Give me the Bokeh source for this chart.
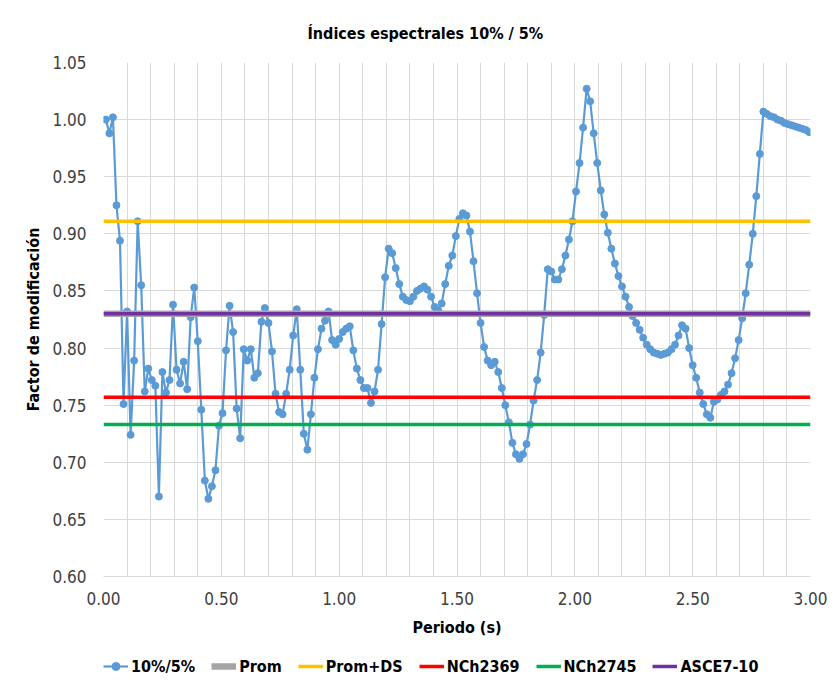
from bokeh.plotting import figure
from bokeh.layouts import column
from bokeh.models import (Range1d, FixedTicker, NumeralTickFormatter, Legend, LegendItem,
                          SingleIntervalTicker)
from bokeh.embed import file_html
from bokeh.resources import INLINE

FONT = "Liberation Sans Narrow, DejaVu Sans Condensed, sans-serif"

periodo = [
    0.010, 0.025, 0.040, 0.055, 0.070, 0.085, 0.100, 0.115, 0.130, 0.145,
    0.160, 0.175, 0.190, 0.205, 0.220, 0.235, 0.250, 0.265, 0.280, 0.295,
    0.310, 0.325, 0.340, 0.355, 0.370, 0.385, 0.400, 0.415, 0.430, 0.445,
    0.460, 0.475, 0.490, 0.505, 0.520, 0.535, 0.550, 0.565, 0.580, 0.595,
    0.610, 0.625, 0.640, 0.655, 0.670, 0.685, 0.700, 0.715, 0.730, 0.745,
    0.760, 0.775, 0.790, 0.805, 0.820, 0.835, 0.850, 0.865, 0.880, 0.895,
    0.910, 0.925, 0.940, 0.955, 0.970, 0.985, 1.000, 1.015, 1.030, 1.045,
    1.060, 1.075, 1.090, 1.105, 1.120, 1.135, 1.150, 1.165, 1.180, 1.195,
    1.210, 1.225, 1.240, 1.255, 1.270, 1.285, 1.300, 1.315, 1.330, 1.345,
    1.360, 1.375, 1.390, 1.405, 1.420, 1.435, 1.450, 1.465, 1.480, 1.495,
    1.510, 1.525, 1.540, 1.555, 1.570, 1.585, 1.600, 1.615, 1.630, 1.645,
    1.660, 1.675, 1.690, 1.705, 1.720, 1.735, 1.750, 1.765, 1.780, 1.795,
    1.810, 1.825, 1.840, 1.855, 1.870, 1.885, 1.900, 1.915, 1.930, 1.945,
    1.960, 1.975, 1.990, 2.005, 2.020, 2.035, 2.050, 2.065, 2.080, 2.095,
    2.110, 2.125, 2.140, 2.155, 2.170, 2.185, 2.200, 2.215, 2.230, 2.245,
    2.260, 2.275, 2.290, 2.305, 2.320, 2.335, 2.350, 2.365, 2.380, 2.395,
    2.410, 2.425, 2.440, 2.455, 2.470, 2.485, 2.500, 2.515, 2.530, 2.545,
    2.560, 2.575, 2.590, 2.605, 2.620, 2.635, 2.650, 2.665, 2.680, 2.695,
    2.710, 2.725, 2.740, 2.755, 2.770, 2.785, 2.800, 2.815, 2.830, 2.845,
    2.860, 2.875, 2.890, 2.905, 2.920, 2.935, 2.950, 2.965, 2.980, 2.995,
]

indice_10_5 = [
    1.000, 0.988, 1.002, 0.925, 0.894, 0.751, 0.832, 0.724, 0.789, 0.911,
    0.855, 0.762, 0.782, 0.772, 0.767, 0.670, 0.779, 0.761, 0.772, 0.838,
    0.781, 0.769, 0.788, 0.764, 0.827, 0.853, 0.806, 0.746, 0.684, 0.668,
    0.679, 0.693, 0.732, 0.743, 0.798, 0.837, 0.814, 0.747, 0.721, 0.799,
    0.789, 0.799, 0.774, 0.778, 0.823, 0.835, 0.822, 0.797, 0.760, 0.744,
    0.742, 0.760, 0.781, 0.811, 0.834, 0.781, 0.725, 0.711, 0.742, 0.774,
    0.799, 0.817, 0.824, 0.832, 0.807, 0.803, 0.808, 0.814, 0.817, 0.819,
    0.798, 0.782, 0.772, 0.765, 0.765, 0.752, 0.762, 0.781, 0.821, 0.862,
    0.887, 0.883, 0.870, 0.856, 0.845, 0.842, 0.841, 0.845, 0.850, 0.852,
    0.854, 0.851, 0.845, 0.836, 0.833, 0.839, 0.856, 0.872, 0.881, 0.898,
    0.913, 0.918, 0.916, 0.902, 0.876, 0.848, 0.822, 0.801, 0.789, 0.785,
    0.788, 0.779, 0.765, 0.750, 0.735, 0.717, 0.707, 0.703, 0.707, 0.716,
    0.733, 0.754, 0.772, 0.796, 0.829, 0.869, 0.867, 0.860, 0.860, 0.869,
    0.881, 0.895, 0.911, 0.937, 0.962, 0.993, 1.027, 1.016, 0.988, 0.962,
    0.938, 0.917, 0.901, 0.887, 0.874, 0.863, 0.854, 0.845, 0.836, 0.828,
    0.822, 0.816, 0.809, 0.803, 0.799, 0.796, 0.795, 0.794, 0.795, 0.796,
    0.799, 0.803, 0.811, 0.820, 0.817, 0.800, 0.785, 0.774, 0.761, 0.751,
    0.742, 0.739, 0.753, 0.755, 0.759, 0.762, 0.768, 0.778, 0.791, 0.807,
    0.826, 0.848, 0.873, 0.900, 0.933, 0.970, 1.007, 1.005, 1.003, 1.002,
    1.000, 0.999, 0.997, 0.996, 0.995, 0.994, 0.993, 0.992, 0.991, 0.989,
]

# horizontal reference levels
ref_x = [0.0, 3.0]
prom = 0.830
prom_ds = 0.911
nch2369 = 0.757
nch2745 = 0.733
asce7_10 = 0.830

x_ticks = [0.0, 0.5, 1.0, 1.5, 2.0, 2.5, 3.0]
y_ticks = [0.60, 0.65, 0.70, 0.75, 0.80, 0.85, 0.90, 0.95, 1.00, 1.05]

series_names = ["10%/5%", "Prom", "Prom+DS", "NCh2369", "NCh2745", "ASCE7-10"]

blue = "#5B9BD5"
ref_styles = [
    ("#A5A5A5", 6.5),
    ("#FFC000", 3.5),
    ("#FF0000", 3.5),
    ("#00B050", 3.5),
    ("#7030A0", 3.5),
]
ref_levels = [prom, prom_ds, nch2369, nch2745, asce7_10]

p = figure(width=836, height=644, x_range=Range1d(0, 3), y_range=Range1d(0.6, 1.05),
           output_backend="svg", toolbar_location=None,
           min_border_left=103, min_border_right=26, min_border_top=62, min_border_bottom=68)

p.title.text = "Índices espectrales 10% / 5%"
p.title.align = "left"
p.title.offset = 204
p.title.text_font = FONT
p.title.text_font_size = "16px"
p.title.text_font_style = "bold"
p.title.text_color = "#000000"
p.title.standoff = 40

p.outline_line_color = None
p.background_fill_color = "white"
p.border_fill_color = "white"

# grids
p.xgrid.ticker = SingleIntervalTicker(interval=0.1, num_minor_ticks=0)
p.xgrid.grid_line_color = "#D9D9D9"
p.ygrid.ticker = FixedTicker(ticks=y_ticks)
p.ygrid.grid_line_color = "#D9D9D9"

# axes
p.xaxis.ticker = FixedTicker(ticks=x_ticks)
p.yaxis.ticker = FixedTicker(ticks=y_ticks)
p.xaxis.formatter = NumeralTickFormatter(format="0.00")
p.yaxis.formatter = NumeralTickFormatter(format="0.00")
for ax in (p.xaxis[0], p.yaxis[0]):
    ax.major_tick_line_color = None
    ax.minor_tick_line_color = None
    ax.major_tick_out = 0
    ax.major_tick_in = 0
    ax.major_label_text_font = FONT
    ax.major_label_text_font_size = "17px"
    ax.major_label_text_color = "#404040"
    ax.axis_label_text_font = FONT
    ax.axis_label_text_font_size = "16px"
    ax.axis_label_text_font_style = "bold"
    ax.axis_label_text_color = "#000000"
p.xaxis.axis_line_color = "#D9D9D9"
p.yaxis.axis_line_color = None
p.xaxis.major_label_standoff = 15
p.yaxis.major_label_standoff = 17
p.xaxis.axis_label = "Periodo (s)"
p.yaxis.axis_label = "Factor de modificación"
p.xaxis.axis_label_standoff = 10
p.yaxis.axis_label_standoff = 6

p.line(periodo, indice_10_5, line_color=blue, line_width=2.2)
p.scatter(periodo, indice_10_5, marker="circle", size=7, fill_color=blue, line_color=blue)
for lvl, (col, lw) in zip(ref_levels, ref_styles):
    p.line(ref_x, [lvl, lvl], line_color=col, line_width=lw)

# legend strip (separate small figure so that it is not clipped)
lg = figure(width=836, height=44, x_range=Range1d(0, 1), y_range=Range1d(0, 1),
            output_backend="svg", toolbar_location=None,
            x_axis_location=None, y_axis_location=None,
            min_border_left=103, min_border_right=26, min_border_top=0, min_border_bottom=0)
lg.grid.visible = False
lg.outline_line_color = None
off = [5, 6]
lr_line = lg.line(off, off, line_color=blue, line_width=2.2)
lr_pts = lg.scatter(off, off, marker="circle", size=7, fill_color=blue, line_color=blue)
items = [LegendItem(label=series_names[0], renderers=[lr_line, lr_pts])]
for name, (col, lw) in zip(series_names[1:], ref_styles):
    r = lg.line(off, off, line_color=col, line_width=lw)
    items.append(LegendItem(label=name, renderers=[r]))

legend = Legend(items=items, orientation="horizontal", location=(0, 12))
legend.label_text_font = FONT
legend.label_text_font_size = "16px"
legend.label_text_font_style = "bold"
legend.label_text_color = "#000000"
legend.glyph_width = 25
legend.glyph_height = 20
legend.label_height = 20
legend.label_standoff = 3
legend.spacing = 16
legend.padding = 0
legend.margin = 0
legend.border_line_color = None
legend.background_fill_alpha = 0
lg.add_layout(legend)

open("out.html", "w").write(file_html(column(p, lg, spacing=0), INLINE))
